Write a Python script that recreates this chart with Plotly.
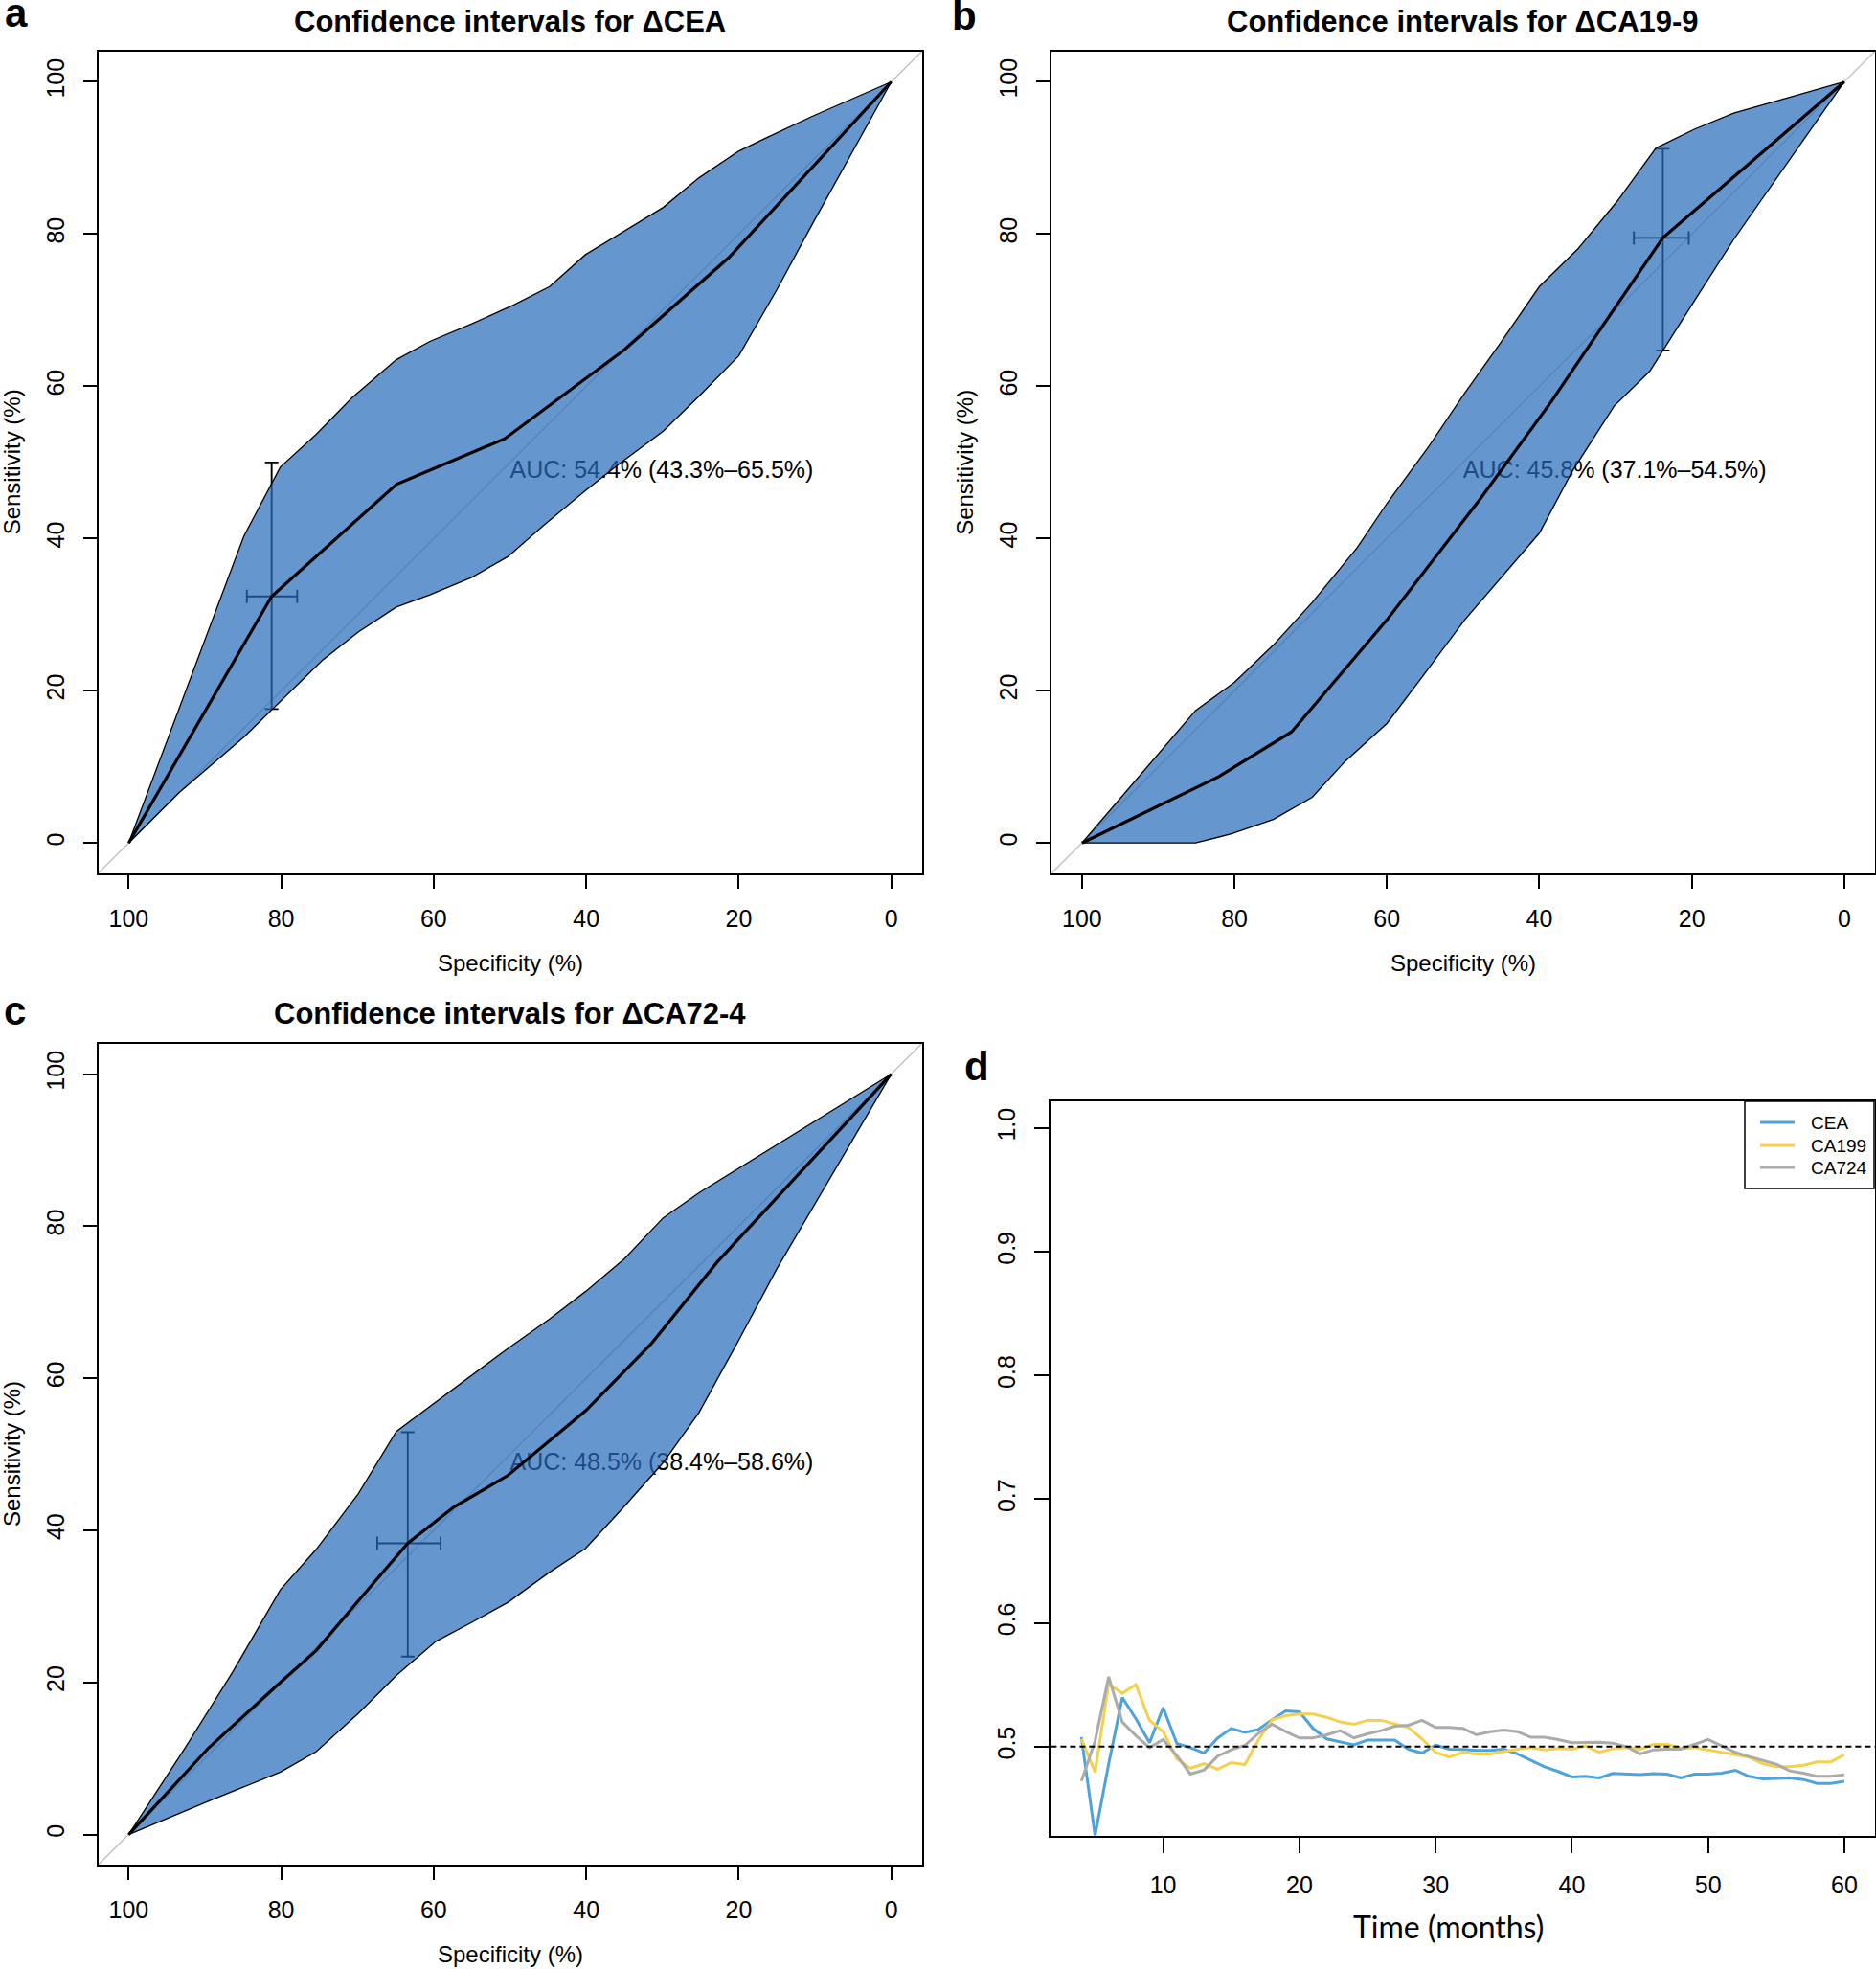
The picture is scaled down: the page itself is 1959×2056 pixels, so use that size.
import plotly.graph_objects as go

W, H = 1959, 2056

# ---------------- data ----------------
# Panel a: delta CEA
cea_roc_spec = [100, 81.25, 64.9, 50.7, 35.0, 21.3, 0]
cea_roc_sens = [0, 32.4, 47.1, 53.1, 64.8, 76.9, 100]
cea_hi_spec = [100, 84.9, 80.1, 75.4, 70.7, 64.9, 60.5, 55.0, 49.5, 44.8, 40.1, 35.4, 29.9, 25.2, 20.0, 16.5, 10.3, 0]
cea_hi_sens = [0, 40.3, 49.4, 53.7, 58.5, 63.5, 65.9, 68.2, 70.7, 73.1, 77.3, 80.2, 83.5, 87.4, 90.9, 92.6, 95.5, 100]
cea_lo_spec = [100, 93.4, 84.8, 80.1, 74.6, 69.9, 64.9, 60.5, 55.0, 50.3, 45.6, 40.1, 35.4, 29.9, 25.2, 20.0, 15.0, 10.3, 0]
cea_lo_sens = [0, 6.6, 14.0, 18.6, 24.0, 27.7, 31.0, 32.6, 34.9, 37.6, 41.7, 46.3, 50.0, 54.1, 58.7, 64.0, 72.7, 81.4, 100]
cea_ci_pt = [81.25, 32.4]
cea_ci_spec = [84.5, 77.9]
cea_ci_sens = [17.6, 50.0]
cea_auc = "AUC: 54.4% (43.3%–65.5%)"

# Panel b: delta CA19-9
ca199_roc_spec = [100, 82.1, 72.5, 60.0, 47.9, 38.5, 30.7, 23.8, 0]
ca199_roc_sens = [0, 8.7, 14.6, 29.3, 45.0, 57.9, 69.4, 79.5, 100]
ca199_hi_spec = [100, 93.7, 85.1, 80.0, 74.9, 69.8, 63.9, 60.0, 54.5, 49.8, 45.1, 40.0, 34.9, 29.8, 24.7, 19.6, 14.5, 0]
ca199_hi_sens = [0, 7.4, 17.4, 21.1, 26.0, 31.6, 38.8, 44.6, 52.1, 59.1, 65.7, 73.1, 78.1, 84.3, 91.3, 93.8, 95.9, 100]
ca199_lo_spec = [100, 85.1, 80.4, 74.9, 69.8, 65.5, 60.0, 55.3, 49.8, 45.1, 40.0, 35.7, 30.2, 25.5, 20.0, 14.5, 0]
ca199_lo_sens = [0, 0, 1.2, 3.1, 6.0, 10.7, 15.7, 21.9, 29.3, 34.7, 40.7, 48.8, 57.4, 62.0, 70.7, 79.3, 100]
ca199_ci_pt = [23.8, 79.5]
ca199_ci_spec = [27.6, 20.4]
ca199_ci_sens = [64.7, 91.2]
ca199_auc = "AUC: 45.8% (37.1%–54.5%)"

# Panel c: delta CA72-4
ca724_roc_spec = [100, 89.5, 80.1, 75.4, 69.9, 63.4, 57.3, 50.3, 40.1, 31.5, 22.8, 0]
ca724_roc_sens = [0, 11.4, 20.0, 24.2, 30.7, 38.3, 43.1, 47.2, 55.7, 64.5, 75.3, 100]
ca724_hi_spec = [100, 92.6, 86.4, 80.1, 75.4, 69.9, 64.9, 60.5, 55.0, 50.3, 44.8, 40.1, 35.0, 29.9, 25.2, 20.0, 0]
ca724_hi_sens = [0, 11.4, 21.3, 32.2, 37.5, 44.8, 53.0, 56.3, 60.4, 63.9, 67.8, 71.4, 75.7, 81.1, 84.4, 87.6, 100]
ca724_lo_spec = [100, 89.5, 80.1, 75.4, 69.9, 64.9, 59.7, 55.0, 50.3, 44.8, 40.1, 35.4, 29.9, 25.2, 20.0, 15.0, 0]
ca724_lo_sens = [0, 4.4, 8.2, 10.9, 15.9, 20.9, 25.4, 27.9, 30.5, 34.5, 37.6, 42.7, 48.9, 55.5, 65.0, 74.4, 100]
ca724_ci_pt = [63.4, 38.3]
ca724_ci_spec = [67.4, 59.1]
ca724_ci_sens = [23.4, 52.9]
ca724_auc = "AUC: 48.5% (38.4%–58.6%)"

# Panel d: time-dependent AUC
months = list(range(4, 61))
auc_cea = [0.5077, 0.428, 0.486, 0.5397, 0.5225, 0.5031, 0.5315, 0.5026, 0.4992, 0.4948, 0.5070, 0.5147,
           0.5114, 0.5139, 0.5217, 0.5289, 0.5281, 0.5147, 0.5062,
           0.5036, 0.5015, 0.5052, 0.5052, 0.5052, 0.4979, 0.4948, 0.5013, 0.4979, 0.4977, 0.4969, 0.4969,
           0.4979, 0.4941, 0.4889, 0.4837, 0.4799, 0.4755, 0.4760, 0.4747, 0.4783,
           0.4778, 0.4773, 0.4781, 0.4778, 0.4747, 0.4778, 0.4778, 0.4786, 0.4809, 0.4760, 0.4739, 0.4742,
           0.4747, 0.4734, 0.4703, 0.4703, 0.4719]
auc_ca199 = [0.5062, 0.4794, 0.5508, 0.5431, 0.5501, 0.5212, 0.5121, 0.4902, 0.4825, 0.4863, 0.4817, 0.4871,
             0.4855, 0.5057, 0.5217, 0.5250, 0.5263, 0.5263, 0.5237,
             0.5199, 0.5181, 0.5212, 0.5212, 0.5186, 0.5155, 0.5062, 0.4954, 0.4915, 0.4954, 0.4941, 0.4941,
             0.4959, 0.4979, 0.4992, 0.4974, 0.4985, 0.4979, 0.5005, 0.4954, 0.4982,
             0.4992, 0.4979, 0.5018, 0.5018, 0.4985, 0.4992, 0.4974, 0.4954, 0.4933, 0.4915, 0.4863, 0.4837,
             0.4837, 0.4850, 0.4876, 0.4876, 0.4935]
auc_ca724 = [0.4721, 0.5044, 0.5565, 0.5199, 0.5088, 0.4992, 0.5057, 0.4928, 0.4778, 0.4812, 0.4923, 0.4974,
             0.5010, 0.5108, 0.5181, 0.5121, 0.5070, 0.5070, 0.5095,
             0.5129, 0.5070, 0.5103, 0.5129, 0.5165, 0.5173, 0.5212, 0.5155, 0.5155, 0.5147, 0.5095, 0.5121,
             0.5134, 0.5121, 0.5075, 0.5075, 0.5057, 0.5031, 0.5036, 0.5036, 0.5028,
             0.5000, 0.4941, 0.4974, 0.4979, 0.4979, 0.5018, 0.5057, 0.5005, 0.4954, 0.4920, 0.4889, 0.4858,
             0.4804, 0.4786, 0.4760, 0.4760, 0.4773]
series_names = ["CEA", "CA199", "CA724"]
series_colors = ["#4FA3DB", "#F4D04B", "#ABABAB"]

roc_ticks = [0, 20, 40, 60, 80, 100]
time_ticks = [10, 20, 30, 40, 50, 60]
auc_ticks = [0.5, 0.6, 0.7, 0.8, 0.9, 1.0]
auc_ticklabels = ["0.5", "0.6", "0.7", "0.8", "0.9", "1.0"]

# ---------------- layout helpers ----------------
FONT = "Arial, Liberation Sans, sans-serif"
FILL = "rgba(40,107,186,0.71)"


def px(x):
    return x / W


def py(y):
    return 1 - y / H


# plot boxes in pixels: (left, top, right, bottom)
boxes = {
    "a": (102.5, 53.7, 962.5, 912.0),
    "b": (1098.0, 53.7, 1957.7, 912.0),
    "c": (102.5, 1089.8, 962.5, 1947.3),
    "d": (1097.4, 1149.8, 1957.8, 1916.8),
}

fig = go.Figure()

roc_panels = [
    ("a", "x", "y", cea_roc_spec, cea_roc_sens, cea_hi_spec, cea_hi_sens, cea_lo_spec, cea_lo_sens,
     cea_ci_pt, cea_ci_spec, cea_ci_sens, cea_auc),
    ("b", "x2", "y2", ca199_roc_spec, ca199_roc_sens, ca199_hi_spec, ca199_hi_sens, ca199_lo_spec, ca199_lo_sens,
     ca199_ci_pt, ca199_ci_spec, ca199_ci_sens, ca199_auc),
    ("c", "x3", "y3", ca724_roc_spec, ca724_roc_sens, ca724_hi_spec, ca724_hi_sens, ca724_lo_spec, ca724_lo_sens,
     ca724_ci_pt, ca724_ci_spec, ca724_ci_sens, ca724_auc),
]

for (lab, xa, ya, rs, rn, hs, hn, ls, ln, pt, cs, cn, auc) in roc_panels:
    # AUC text (drawn beneath the translucent band)
    fig.add_trace(go.Scatter(x=[50], y=[48.7], mode="text", text=[auc], textposition="middle right",
                             textfont=dict(family=FONT, size=25, color="black"),
                             xaxis=xa, yaxis=ya, showlegend=False, hoverinfo="skip"))
    # CI cross at the threshold
    fig.add_trace(go.Scatter(
        x=[pt[0]], y=[pt[1]], mode="markers", marker=dict(size=1, color="rgba(0,0,0,0)"),
        error_y=dict(type="data", symmetric=False, array=[cn[1] - pt[1]], arrayminus=[pt[1] - cn[0]],
                     color="black", thickness=1.9, width=7),
        error_x=dict(type="data", symmetric=False, array=[cs[0] - pt[0]], arrayminus=[pt[0] - cs[1]],
                     color="black", thickness=1.9, width=7),
        xaxis=xa, yaxis=ya, showlegend=False, hoverinfo="skip"))
    # confidence band
    fig.add_trace(go.Scatter(x=hs + ls[::-1], y=hn + ln[::-1], mode="lines", fill="toself",
                             fillcolor=FILL, line=dict(color="black", width=1.3),
                             xaxis=xa, yaxis=ya, showlegend=False, hoverinfo="skip"))
    # ROC curve
    fig.add_trace(go.Scatter(x=rs, y=rn, mode="lines", line=dict(color="black", width=3.2),
                             xaxis=xa, yaxis=ya, showlegend=False, hoverinfo="skip"))

for name, vals, col in zip(series_names, [auc_cea, auc_ca199, auc_ca724], series_colors):
    fig.add_trace(go.Scatter(x=months, y=vals, mode="lines", name=name, line=dict(color=col, width=3),
                             xaxis="x4", yaxis="y4", showlegend=False))

# ---------------- axes ----------------
base_axis = dict(showline=True, linecolor="black", linewidth=1.5, mirror=True, ticks="outside",
                 ticklen=14, tickwidth=1.5, tickcolor="black", showgrid=False, zeroline=False,
                 tickfont=dict(family=FONT, size=25, color="black"))

layout_axes = {}
for i, lab in enumerate(["a", "b", "c"]):
    l, t, r, b = boxes[lab]
    sfx = "" if i == 0 else str(i + 1)
    layout_axes["xaxis" + sfx] = dict(base_axis, domain=[px(l), px(r)], range=[104, -4],
                                      tickvals=roc_ticks, anchor="y" + sfx, ticklabelstandoff=10)
    layout_axes["yaxis" + sfx] = dict(base_axis, domain=[py(b), py(t)], range=[-4, 104],
                                      tickvals=roc_ticks, anchor="x" + sfx, tickangle=-90,
                                      ticklabelstandoff=10)
l, t, r, b = boxes["d"]
layout_axes["xaxis4"] = dict(base_axis, domain=[px(l), px(r)], range=[1.76, 62.24], tickvals=time_ticks,
                             anchor="y4", ticklen=16, ticklabelstandoff=12)
layout_axes["yaxis4"] = dict(base_axis, domain=[py(b), py(t)], range=[0.428, 1.0218], tickvals=auc_ticks,
                             ticktext=auc_ticklabels, anchor="x4", tickangle=-90, ticklen=16,
                             ticklabelstandoff=10)

# ---------------- shapes ----------------
shapes = []
for i in range(3):
    sfx = "" if i == 0 else str(i + 1)
    shapes.append(dict(type="line", xref="x" + sfx, yref="y" + sfx, x0=104, y0=-4, x1=-4, y1=104,
                       line=dict(color="rgb(190,190,190)", width=1.3), layer="below"))
shapes.append(dict(type="line", xref="x4 domain", yref="y4", x0=0, x1=1, y0=0.5, y1=0.5,
                   line=dict(color="black", width=2, dash="6px,4px"), layer="above"))

# manual legend for panel d
leg_l, leg_t, leg_r, leg_b = 1822, 1150, 1957, 1241
shapes.append(dict(type="rect", xref="paper", yref="paper", x0=px(leg_l), x1=px(leg_r), y0=py(leg_b),
                   y1=py(leg_t), line=dict(color="black", width=1.5), fillcolor="white", layer="above"))
annotations = []
leg_rows = [1172, 1196, 1219]
for name, col, yy in zip(series_names, series_colors, leg_rows):
    shapes.append(dict(type="line", xref="paper", yref="paper", x0=px(1838), x1=px(1874), y0=py(yy), y1=py(yy),
                       line=dict(color=col, width=3), layer="above"))
    annotations.append(dict(xref="paper", yref="paper", x=px(1889), y=py(yy), text=name, showarrow=False,
                            xanchor="left", yanchor="middle", font=dict(family=FONT, size=19, color="black")))

# ---------------- text ----------------
def ann(x, y, text, size, angle=0, family=FONT, xanchor="center"):
    annotations.append(dict(xref="paper", yref="paper", x=px(x), y=py(y), text=text, showarrow=False,
                            xanchor=xanchor, yanchor="middle", textangle=angle,
                            font=dict(family=family, size=size, color="black")))


titles = {"a": "Confidence intervals for ΔCEA", "b": "Confidence intervals for ΔCA19-9",
          "c": "Confidence intervals for ΔCA72-4"}
for lab in ["a", "b", "c"]:
    l, t, r, b = boxes[lab]
    cx = (l + r) / 2
    ann(cx, t - 31, "<b>" + titles[lab] + "</b>", 31)
    ann(cx, b + 93, "Specificity (%)", 24)
    ann(l - 90, (t + b) / 2, "Sensitivity (%)", 24, angle=-90)

ann(1512, 2011, "Time (months)", 32, family="Lato, Open Sans, sans-serif")

ann(17, 14, "<b>a</b>", 42)
ann(1007, 17, "<b>b</b>", 42)
ann(15, 1055, "<b>c</b>", 42)
ann(1020, 1113, "<b>d</b>", 42)

fig.update_layout(width=W, height=H, margin=dict(l=0, r=0, t=0, b=0), paper_bgcolor="white",
                  plot_bgcolor="white", showlegend=False, shapes=shapes, annotations=annotations,
                  **layout_axes)

fig.write_html("out.html", config={"displayModeBar": False},
               post_script="document.body.style.margin='0';document.body.style.overflow='hidden';")
